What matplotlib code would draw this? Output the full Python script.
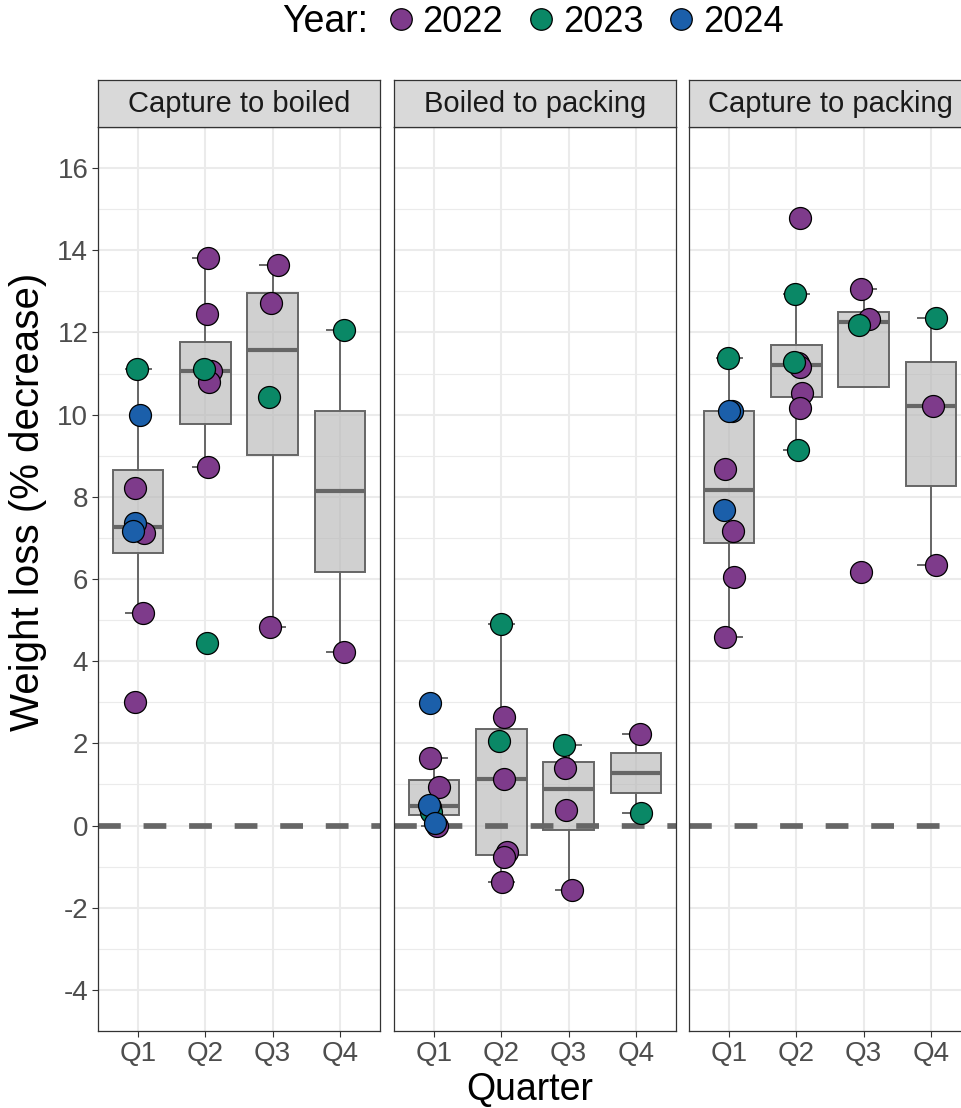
import numpy as np
import matplotlib
matplotlib.use('Agg')
import matplotlib.pyplot as plt
from matplotlib.lines import Line2D

plt.rcParams['font.family'] = ['Liberation Sans', 'DejaVu Sans']
plt.rcParams['axes.unicode_minus'] = False

facets = ['Capture to boiled', 'Boiled to packing', 'Capture to packing']
quarters = ['Q1', 'Q2', 'Q3', 'Q4']
years = [2022, 2023, 2024]
year_colors = {2022: '#7E3B8B', 2023: '#0A8866', 2024: '#1B5FAA'}

# capture to boiled
cb_quarter = ['Q1'] * 8 + ['Q2'] * 7 + ['Q3'] * 4 + ['Q4'] * 2
cb_year = [2023, 2024, 2022, 2024, 2024, 2022, 2022, 2022,
           2022, 2022, 2022, 2022, 2022, 2023, 2023,
           2022, 2022, 2022, 2023,
           2023, 2022]
cb_loss = [11.10, 10.00, 8.21, 7.36, 7.18, 7.12, 5.17, 3.00,
           13.81, 12.45, 11.07, 10.80, 8.72, 11.10, 4.44,
           13.64, 12.72, 4.83, 10.42,
           12.06, 4.22]

# boiled to packing
bp_quarter = ['Q1'] * 8 + ['Q2'] * 7 + ['Q3'] * 4 + ['Q4'] * 2
bp_year = [2024, 2022, 2022, 2022, 2024, 2023, 2024, 2022,
           2023, 2022, 2023, 2022, 2022, 2022, 2022,
           2023, 2022, 2022, 2022,
           2022, 2023]
bp_loss = [2.98, 1.64, 0.94, 0.46, 0.51, 0.32, 0.06, -0.02,
           4.91, 2.64, 2.05, 1.14, -0.65, -0.77, -1.37,
           1.95, 1.40, 0.37, -1.58,
           2.24, 0.31]

# capture to packing
cp_quarter = ['Q1'] * 8 + ['Q2'] * 8 + ['Q3'] * 4 + ['Q4'] * 3
cp_year = [2023, 2024, 2024, 2022, 2024, 2022, 2022, 2022,
           2022, 2023, 2023, 2022, 2022, 2022, 2022, 2023,
           2022, 2022, 2023, 2022,
           2023, 2022, 2022]
cp_loss = [11.39, 10.10, 10.08, 8.67, 7.68, 7.16, 6.06, 4.60,
           14.79, 12.93, 11.29, 11.25, 11.17, 10.52, 10.16, 9.14,
           13.05, 12.32, 12.18, 6.18,
           12.36, 10.20, 6.35]

# horizontal jitter of each point
cb_jit = [-0.015, 0.03, -0.05, -0.05, -0.075, 0.08, 0.075, -0.05,
          0.045, 0.03, 0.09, 0.06, 0.045, -0.015, 0.03,
          0.075, -0.03, -0.045, -0.06,
          0.07, 0.06]
bp_jit = [-0.06, -0.06, 0.065, -0.06, -0.075, -0.045, 0.015, 0.04,
          0.0, 0.04, -0.03, 0.045, 0.085, 0.045, 0.015,
          -0.07, -0.055, -0.045, 0.045,
          0.065, 0.085]
cp_jit = [-0.02, 0.04, -0.01, -0.06, -0.075, 0.055, 0.075, -0.06,
          0.06, -0.015, -0.04, 0.02, 0.05, 0.085, 0.06, 0.025,
          -0.035, 0.075, -0.065, -0.045,
          0.085, 0.035, 0.075]

panels = [(cb_quarter, cb_year, cb_loss, cb_jit),
          (bp_quarter, bp_year, bp_loss, bp_jit),
          (cp_quarter, cp_year, cp_loss, cp_jit)]

W, H = 961, 1108
fig = plt.figure(figsize=(W / 100, H / 100), dpi=100)

def fx(px):
    return px / W

def fy(py):
    return 1 - py / H

lefts = [98, 394, 689]
pw = 282
top, bottom = 127, 1031
strip_top = 80

grid_col = '#EBEBEB'
edge_col = '#333333'
box_col = '#666666'

for i, (qs, ys, vals, jit) in enumerate(panels):
    ax = fig.add_axes([fx(lefts[i]), fy(bottom), pw / W, (bottom - top) / H])
    qs = np.array(qs)
    ys = np.array(ys)
    vals = np.array(vals)
    xpos = np.array([quarters.index(q) + 1 for q in qs], dtype=float)

    data = [vals[qs == q] for q in quarters]
    bp = ax.boxplot(data, positions=[1, 2, 3, 4], widths=0.75, whis=1.5,
                    patch_artist=True, showfliers=False, capwidths=0.37,
                    manage_ticks=False)
    for b in bp['boxes']:
        b.set_facecolor((0.72, 0.72, 0.72, 0.65))
        b.set_edgecolor(box_col)
        b.set_linewidth(1.4)
        b.set_zorder(2)
    for m in bp['medians']:
        m.set_color(box_col)
        m.set_linewidth(3.0)
        m.set_solid_capstyle('butt')
        m.set_zorder(2.1)
    for w in bp['whiskers'] + bp['caps']:
        w.set_color(box_col)
        w.set_linewidth(1.4)
        w.set_zorder(1.5)

    ax.axhline(0, color='#666666', lw=4.1, ls=(0, (4, 4)), zorder=2.5)

    for yr in years:
        sel = ys == yr
        ax.scatter(xpos[sel] + np.array(jit)[sel], vals[sel], s=250,
                   color=year_colors[yr], edgecolor='black', linewidth=0.9,
                   zorder=3)

    ax.set_xlim(0.4, 4.6)
    ax.set_ylim(-4.985, 17.0)
    ax.set_xticks([1, 2, 3, 4])
    ax.set_xticklabels(quarters)
    ax.set_yticks(np.arange(-4, 17, 2))
    ax.set_yticks(np.arange(-5, 17, 2), minor=True)
    ax.grid(True, which='major', color=grid_col, lw=1.5, zorder=0)
    ax.grid(True, which='minor', axis='y', color=grid_col, lw=0.8, zorder=0)
    ax.set_axisbelow(True)
    ax.tick_params(axis='both', which='major', length=4, width=0.8,
                   color=edge_col, labelsize=20, labelcolor='#4D4D4D', pad=3)
    ax.tick_params(which='minor', length=0)
    if i > 0:
        ax.tick_params(axis='y', left=False, labelleft=False)
    for sp in ax.spines.values():
        sp.set_color(edge_col)
        sp.set_linewidth(0.9)

    sax = fig.add_axes([fx(lefts[i]), fy(top), pw / W, (top - strip_top) / H])
    sax.set_facecolor('#D9D9D9')
    sax.set_xticks([])
    sax.set_yticks([])
    for sp in sax.spines.values():
        sp.set_color(edge_col)
        sp.set_linewidth(0.9)
    sax.text(0.5, 0.5, facets[i], ha='center', va='center', fontsize=21,
             color='#1A1A1A', transform=sax.transAxes)

fig.text(fx(28), fy(502), 'Weight loss (% decrease)', rotation=90,
         ha='center', va='center', fontsize=29)
fig.text(fx(530), fy(1090), 'Quarter', ha='center', va='center', fontsize=27)

fig.text(fx(282), fy(22), 'Year:', ha='left', va='center', fontsize=27)
handles = [Line2D([], [], ls='none', marker='o', markersize=15.5,
                  markerfacecolor=year_colors[y], markeredgecolor='black',
                  markeredgewidth=0.9) for y in years]
fig.legend(handles, [str(y) for y in years], ncol=3, loc='center left',
           bbox_to_anchor=(fx(390), fy(22)), frameon=False, fontsize=26,
           handletextpad=0.3, columnspacing=0.75, handlelength=0.6,
           borderpad=0, borderaxespad=0)

fig.savefig('out.png', dpi=100)
